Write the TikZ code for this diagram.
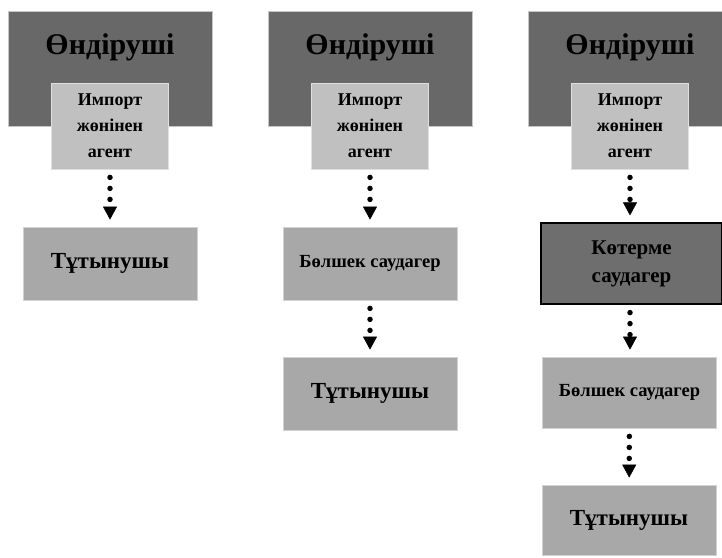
\documentclass[tikz,border=0pt]{standalone}
\usepackage{fontspec}
\setmainfont{Liberation Serif}
\usetikzlibrary{arrows.meta}

\definecolor{prodgray}{RGB}{104,104,104}
\definecolor{agentgray}{RGB}{192,192,192}
\definecolor{boxgray}{RGB}{168,168,168}
\definecolor{wholegray}{RGB}{110,110,110}

\tikzset{
	prodbox/.style={draw=gray!45, line width=0.8pt, fill=prodgray, minimum width=204pt, minimum height=115pt, inner sep=0pt},
	prodtitle/.style={font=\bfseries\fontsize{30}{32}\selectfont, inner sep=0pt},
	agentbox/.style={draw=gray!25, line width=0.8pt, fill=agentgray, minimum width=117pt, minimum height=86pt, inner sep=0pt, align=center, font=\bfseries\fontsize{18}{26}\selectfont},
	consbox/.style={draw=gray!35, line width=0.8pt, fill=boxgray, minimum width=174pt, minimum height=73pt, inner sep=0pt, font=\bfseries\fontsize{23}{26}\selectfont},
	retbox/.style={consbox, font=\bfseries\fontsize{18.5}{20}\selectfont},
	wholebox/.style={draw=black, line width=1.2pt, fill=wholegray, minimum width=181pt, minimum height=81pt, inner sep=0pt, align=center, font=\bfseries\fontsize{21}{28}\selectfont},
	flowarrow/.style={line width=5.5pt, line cap=round, dash pattern=on 0pt off 11pt, shorten <=8pt, shorten >=7pt, -{Triangle[width=14pt,length=13pt,line width=0.5pt]}}
}

\begin{document}
\begin{tikzpicture}[x=1pt,y=-1pt]
	
	\useasboundingbox (0,0) rectangle (722,557);
	
	\def\colA{110};
	\def\colB{370};
	\def\colC{630};
	
	% first channel
	\node[prodbox] (prod1) at (\colA,68.5) {};
	\node[prodtitle] (title1) at (\colA,47) {Өндіруші};
	\node[agentbox] (imp1) at (\colA,126) {Импорт\\жөнінен\\агент};
	\node[consbox] (cons1) at (\colA,263.5) {Тұтынушы};
	
	\draw[flowarrow] (imp1) -- (cons1);
	
	% second channel
	\node[prodbox] (prod2) at (\colB,68.5) {};
	\node[prodtitle] (title2) at (\colB,47) {Өндіруші};
	\node[agentbox] (imp2) at (\colB,126) {Импорт\\жөнінен\\агент};
	\node[retbox] (ret2) at (\colB,263.5) {Бөлшек саудагер};
	\node[consbox] (cons2) at (\colB,393.5) {Тұтынушы};
	
	\draw[flowarrow] (imp2) -- (ret2);
	\draw[flowarrow] (ret2) -- (cons2);
	
	% third channel
	\node[prodbox] (prod3) at (\colC,68.5) {};
	\node[prodtitle] (title3) at (\colC,47) {Өндіруші};
	\node[agentbox] (imp3) at (\colC,126) {Импорт\\жөнінен\\агент};
	\node[wholebox] (whole3) at (\colC+1.5,263.5) {Көтерме\\саудагер};
	\node[retbox, minimum height=71pt] (ret3) at (\colC-0.5,392.5) {Бөлшек саудагер};
	\node[consbox, minimum height=70pt] (cons3) at (\colC-1,520) {Тұтынушы};
	
	\draw[flowarrow] (imp3) -- (imp3 |- whole3.north);
	\draw[flowarrow] (whole3.south -| imp3) -- (imp3 |- ret3.north);
	\draw[flowarrow] (ret3) -- (cons3);
	
\end{tikzpicture}
\end{document}
